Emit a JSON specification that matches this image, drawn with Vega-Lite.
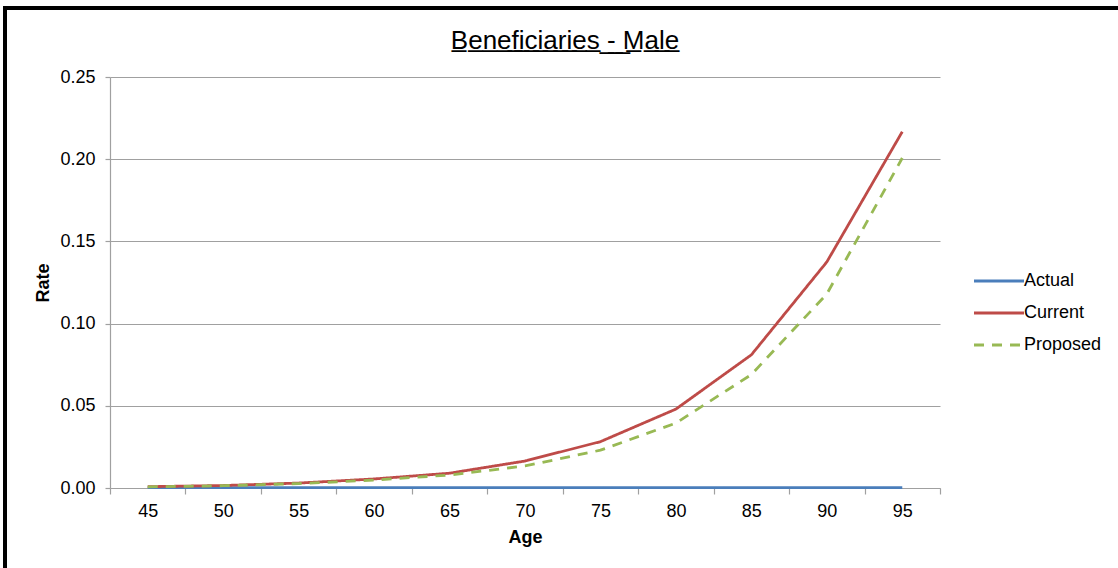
{
  "$schema": "https://vega.github.io/schema/vega-lite/v6.json",
  "background": "white",
  "autosize": {"type": "none"},
  "padding": {"left": 5, "top": 8, "right": -7, "bottom": -10},
  "width": 1120,
  "height": 570,
  "title": {
    "text": "B\u0332e\u0332n\u0332e\u0332f\u0332i\u0332c\u0332i\u0332a\u0332r\u0332i\u0332e\u0332s\u0332 \u0332-\u0332 \u0332M\u0332a\u0332l\u0332e\u0332",
    "fontSize": 26,
    "fontWeight": "normal",
    "font": "Liberation Sans",
    "color": "#000000",
    "anchor": "middle",
    "frame": "group",
    "offset": -46
  },
  "data": {
    "values": [
      {"age": 45, "series": "Actual", "rate": 0.0002},
      {"age": 50, "series": "Actual", "rate": 0.0002},
      {"age": 55, "series": "Actual", "rate": 0.0002},
      {"age": 60, "series": "Actual", "rate": 0.0002},
      {"age": 65, "series": "Actual", "rate": 0.0002},
      {"age": 70, "series": "Actual", "rate": 0.0002},
      {"age": 75, "series": "Actual", "rate": 0.0002},
      {"age": 80, "series": "Actual", "rate": 0.0002},
      {"age": 85, "series": "Actual", "rate": 0.0002},
      {"age": 90, "series": "Actual", "rate": 0.0002},
      {"age": 95, "series": "Actual", "rate": 0.0002},
      {"age": 45, "series": "Current", "rate": 0.0008},
      {"age": 50, "series": "Current", "rate": 0.0015},
      {"age": 55, "series": "Current", "rate": 0.003},
      {"age": 60, "series": "Current", "rate": 0.0055},
      {"age": 65, "series": "Current", "rate": 0.009},
      {"age": 70, "series": "Current", "rate": 0.0164},
      {"age": 75, "series": "Current", "rate": 0.0282},
      {"age": 80, "series": "Current", "rate": 0.048},
      {"age": 85, "series": "Current", "rate": 0.081},
      {"age": 90, "series": "Current", "rate": 0.1375},
      {"age": 95, "series": "Current", "rate": 0.2167},
      {"age": 45, "series": "Proposed", "rate": 0.0007},
      {"age": 50, "series": "Proposed", "rate": 0.0014},
      {"age": 55, "series": "Proposed", "rate": 0.0027},
      {"age": 60, "series": "Proposed", "rate": 0.0048},
      {"age": 65, "series": "Proposed", "rate": 0.0079},
      {"age": 70, "series": "Proposed", "rate": 0.0134},
      {"age": 75, "series": "Proposed", "rate": 0.023},
      {"age": 80, "series": "Proposed", "rate": 0.0395},
      {"age": 85, "series": "Proposed", "rate": 0.069},
      {"age": 90, "series": "Proposed", "rate": 0.118},
      {"age": 95, "series": "Proposed", "rate": 0.2007}
    ]
  },
  "mark": {"type": "line", "strokeWidth": 2.8},
  "encoding": {
    "x": {
      "field": "age",
      "type": "ordinal",
      "title": "Age",
      "scale": {"type": "band", "paddingInner": 0, "paddingOuter": 0, "range": [105, 935]},
      "axis": {
        "labelAngle": 0,
        "tickBand": "extent",
        "tickSize": 6,
        "labelPadding": 8,
        "titlePadding": 8,
        "offset": -90,
        "grid": false
      }
    },
    "y": {
      "field": "rate",
      "type": "quantitative",
      "title": "Rate",
      "scale": {"domain": [0, 0.25], "nice": false, "zero": true, "range": [480, 69]},
      "axis": {
        "values": [0, 0.05, 0.1, 0.15, 0.2, 0.25],
        "format": ".2f",
        "tickSize": 5,
        "labelPadding": 10,
        "titlePadding": 7,
        "offset": -105,
        "grid": true
      }
    },
    "color": {
      "field": "series",
      "type": "nominal",
      "title": null,
      "scale": {
        "domain": ["Actual", "Current", "Proposed"],
        "range": ["#4A7EBB", "#BE4B48", "#98B954"]
      },
      "legend": {
        "orient": "none",
        "legendX": 985,
        "legendY": 264,
        "symbolType": "M-5,0H5",
        "symbolSize": 100,
        "symbolStrokeWidth": 2.8,
        "labelOffset": 16,
        "rowPadding": 14,
        "labelFontSize": 18,
        "labelFont": "Liberation Sans",
        "labelColor": "#000000"
      }
    },
    "strokeDash": {
      "field": "series",
      "type": "nominal",
      "title": null,
      "scale": {
        "domain": ["Actual", "Current", "Proposed"],
        "range": [[1, 0], [1, 0], [10, 8]]
      },
      "legend": null
    }
  },
  "config": {
    "font": "Liberation Sans",
    "view": {"stroke": "#000000", "strokeWidth": 4, "fill": "white"},
    "axis": {
      "labelFont": "Liberation Sans",
      "labelFontSize": 18,
      "labelColor": "#000000",
      "titleFont": "Liberation Sans",
      "titleFontSize": 18,
      "titleFontWeight": "bold",
      "titleColor": "#000000",
      "domainColor": "#A0A0A0",
      "domainWidth": 1.2,
      "tickColor": "#A0A0A0",
      "tickWidth": 1.2,
      "gridColor": "#A0A0A0",
      "gridWidth": 1.2
    }
  }
}
